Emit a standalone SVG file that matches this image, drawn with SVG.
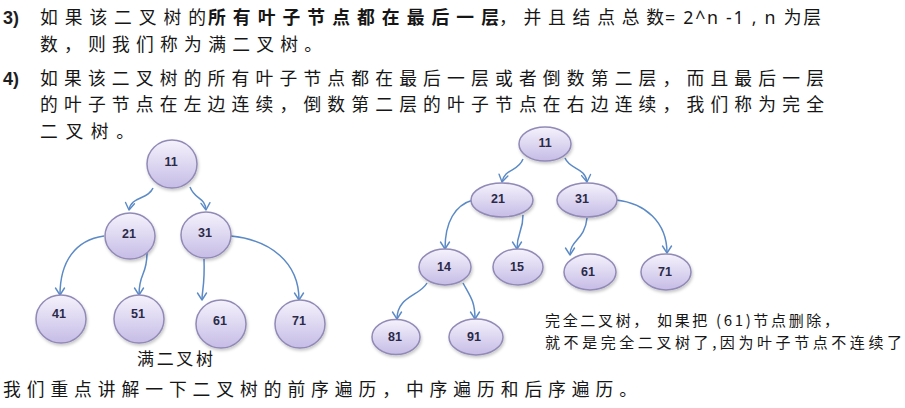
<svg xmlns="http://www.w3.org/2000/svg" width="905" height="408" viewBox="0 0 905 408">
<defs>
<linearGradient id="nodeFill" x1="0" y1="0" x2="0" y2="1">
<stop offset="0" stop-color="#f5f2fc"/>
<stop offset="1" stop-color="#c6bce6"/>
</linearGradient>
<filter id="shadow" x="-20%" y="-20%" width="150%" height="150%">
<feDropShadow dx="1" dy="2" stdDeviation="1.5" flood-color="#000" flood-opacity="0.22"/>
</filter>
<marker id="arrow" viewBox="-9 -6 11 12" refX="0" refY="0" markerWidth="11" markerHeight="12" markerUnits="userSpaceOnUse" orient="auto">
<path d="M-7,-4.5 L0,0 L-7,4.5" fill="none" stroke="#5b8ac6" stroke-width="1.4" stroke-linecap="round" stroke-linejoin="round"/>
</marker>
</defs>
<style>
.t{font-family:"Noto Sans CJK SC","Noto Sans",sans-serif;fill:#161616;}
.m{font-size:17.8px;}
.num{font-family:"Liberation Sans",Arial,sans-serif;font-size:18px;font-weight:bold;fill:#1e1e1e;}
.lat{font-family:"Noto Sans","Noto Sans CJK SC",sans-serif;font-size:17.8px;fill:#161616;}
.node ellipse{fill:url(#nodeFill);stroke:#928ab6;stroke-width:1.5;filter:url(#shadow);}
.node text{font-family:"Liberation Sans",Arial,sans-serif;font-size:12.5px;font-weight:bold;fill:#2a2a48;text-anchor:middle;}
.edge{fill:none;stroke:#5b8ac6;stroke-width:1.5;marker-end:url(#arrow);}
.small{font-size:15px;}
.lbl{font-size:17px;}
</style>
<rect width="905" height="408" fill="#ffffff"/>

<g id="text">
<text class="num" x="3" y="24">3)</text>
<text class="t m" x="40" y="24" textLength="166" lengthAdjust="spacing">如果该二叉树的</text>
<text class="t m" x="208" y="24" textLength="291" lengthAdjust="spacing" font-weight="bold">所有叶子节点都在最后一层</text>
<text class="t m" x="499" y="24" textLength="165" lengthAdjust="spacing">，并且结点总数</text>
<text class="lat" x="665" y="24" textLength="156" lengthAdjust="spacing">= 2^n -1 , n 为层</text>
<text class="t m" x="40" y="51" textLength="282" lengthAdjust="spacing">数，则我们称为满二叉树。</text>
<text class="num" x="3" y="85">4)</text>
<text class="t m" x="40" y="85" textLength="784" lengthAdjust="spacing">如果该二叉树的所有叶子节点都在最后一层或者倒数第二层，而且最后一层</text>
<text class="t m" x="40" y="111" textLength="784" lengthAdjust="spacing">的叶子节点在左边连续，倒数第二层的叶子节点在右边连续，我们称为完全</text>
<text class="t m" x="40" y="138" textLength="94" lengthAdjust="spacing">二叉树。</text>
<text class="t lbl" x="137" y="365" textLength="76" lengthAdjust="spacing">满二叉树</text>
<text class="t small" x="545" y="326" textLength="294" lengthAdjust="spacing">完全二叉树， 如果把 (61)节点删除，</text>
<text class="t small" x="545" y="348" textLength="357" lengthAdjust="spacing">就不是完全二叉树了,因为叶子节点不连续了</text>
<text class="t m" x="3" y="396" textLength="634" lengthAdjust="spacing">我们重点讲解一下二叉树的前序遍历，中序遍历和后序遍历。</text>
</g>

<g id="connectors">
<path class="edge" d="M153,188 C148,200 131,196 129,210"/>
<path class="edge" d="M190,187 C195,200 205,197 206,210"/>
<path class="edge" d="M104,236 C75,240 60,262 60,295"/>
<path class="edge" d="M147,253 C147,276 139,272 139,295"/>
<path class="edge" d="M204,259 C205,285 202,290 202,300"/>
<path class="edge" d="M231,236 C270,240 299,262 299,300"/>
<path class="edge" d="M523,159 C518,172 505,168 502,182"/>
<path class="edge" d="M565,158 C570,170 585,167 587,182"/>
<path class="edge" d="M473,200 C455,205 445,222 445,249"/>
<path class="edge" d="M523,215 C523,232 517,232 517,249"/>
<path class="edge" d="M587,218 C585,240 570,240 570,255"/>
<path class="edge" d="M616,200 C645,203 667,222 667,253"/>
<path class="edge" d="M427,283 C420,296 397,296 397,319"/>
<path class="edge" d="M463,283 C470,296 475,301 475,319"/>
</g>

<g id="full-11" class="node"><ellipse cx="172" cy="164" rx="25" ry="24"/><text x="171" y="166">11</text></g>
<g id="full-21" class="node"><ellipse cx="130" cy="236" rx="25" ry="23"/><text x="129" y="238">21</text></g>
<g id="full-31" class="node"><ellipse cx="206" cy="235" rx="25" ry="23"/><text x="205" y="237">31</text></g>
<g id="full-41" class="node"><ellipse cx="61" cy="319" rx="25" ry="24"/><text x="59" y="318">41</text></g>
<g id="full-51" class="node"><ellipse cx="139" cy="319" rx="25" ry="24"/><text x="138" y="318">51</text></g>
<g id="full-61" class="node"><ellipse cx="221" cy="324" rx="25" ry="24"/><text x="220" y="325">61</text></g>
<g id="full-71" class="node"><ellipse cx="300" cy="324" rx="25" ry="24"/><text x="299" y="325">71</text></g>

<g id="comp-11" class="node"><ellipse cx="545" cy="144" rx="26" ry="17"/><text x="545" y="147">11</text></g>
<g id="comp-21" class="node"><ellipse cx="502" cy="200" rx="31" ry="17"/><text x="498" y="203">21</text></g>
<g id="comp-31" class="node"><ellipse cx="587" cy="200" rx="30" ry="17"/><text x="582" y="203">31</text></g>
<g id="comp-14" class="node"><ellipse cx="445" cy="267" rx="26" ry="18"/><text x="444" y="271">14</text></g>
<g id="comp-15" class="node"><ellipse cx="518" cy="267" rx="25" ry="18"/><text x="517" y="271">15</text></g>
<g id="comp-61" class="node"><ellipse cx="590" cy="272" rx="26" ry="18"/><text x="588" y="276">61</text></g>
<g id="comp-71" class="node"><ellipse cx="666" cy="272" rx="25" ry="18"/><text x="665" y="276">71</text></g>
<g id="comp-81" class="node"><ellipse cx="396" cy="337" rx="24" ry="17.5"/><text x="395" y="341">81</text></g>
<g id="comp-91" class="node"><ellipse cx="476" cy="337" rx="27" ry="18"/><text x="474" y="341">91</text></g>
</svg>
